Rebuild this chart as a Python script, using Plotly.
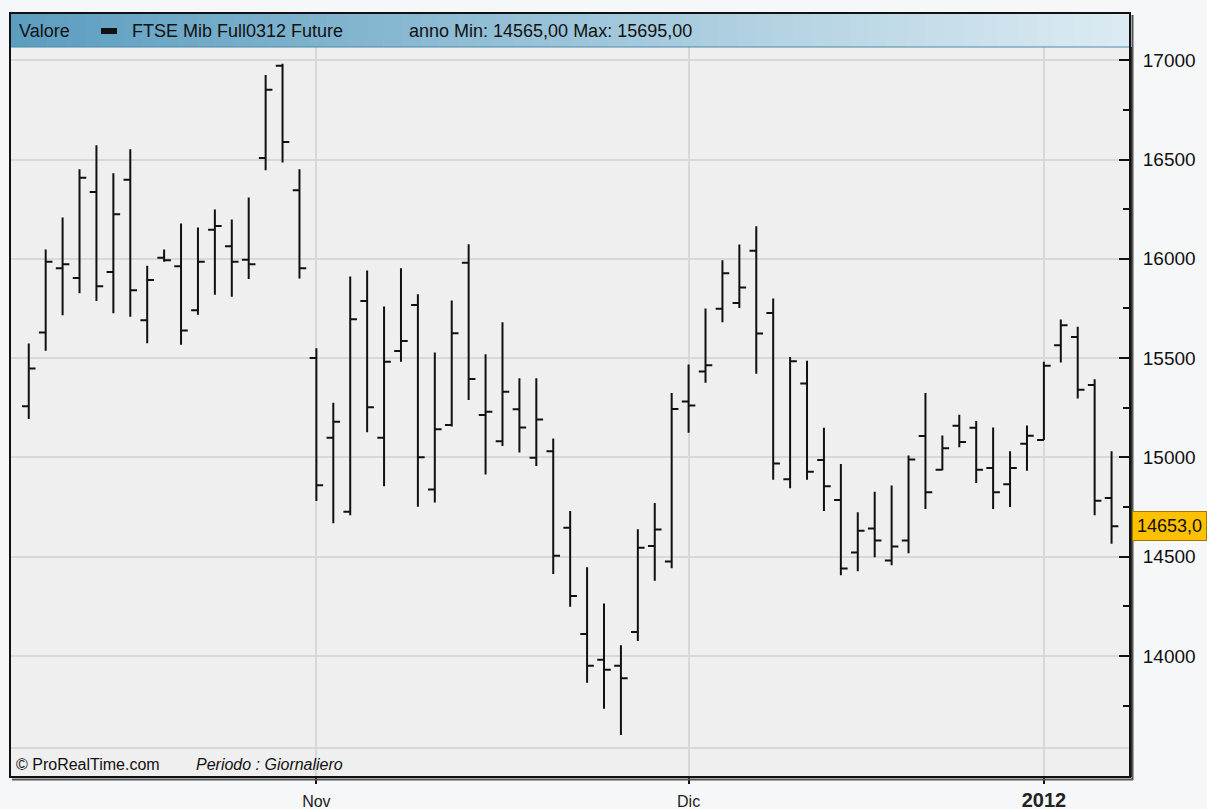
import plotly.graph_objects as go

# ---- data ----
OPEN = [15257, 15629, 15953, 15903, 16337, 15934, 16398, 15691, 16005, 15963,
        15741, 16146, 16064, 15995, 16508, 16973, 16346, 15500, 15099, 14726,
        15788, 15099, 15536, 15768, 14838, 15163, 15980, 15213, 15081, 15242,
        14998, 15031, 14646, 14110, 13980, 13950, 14120, 14554, 14475, 15282,
        15433, 15748, 15777, 16041, 15727, 14890, 15372, 14987, 14785, 14521,
        14642, 14480, 14581, 15107, 14937, 15159, 15149, 14947, 14864, 15068,
        15088, 15565, 15606, 15365, 14795]
HIGH = [15574, 16047, 16208, 16451, 16572, 16431, 16552, 15965, 16047, 16178,
        16158, 16248, 16198, 16309, 16926, 16983, 16451, 15550, 15275, 15911,
        15941, 15760, 15953, 15822, 15528, 15790, 16074, 15519, 15681, 15398,
        15398, 15095, 14730, 14446, 14264, 14054, 14638, 14770, 15324, 15468,
        15750, 15993, 16072, 16164, 15800, 15505, 15487, 15149, 14967, 14723,
        14827, 14858, 15009, 15324, 15110, 15215, 15183, 15151, 15031, 15161,
        15481, 15695, 15658, 15393, 15031]
LOW = [15193, 15537, 15716, 15827, 15788, 15726, 15708, 15575, 15985, 15567,
       15718, 15819, 15809, 15899, 16446, 16485, 15901, 14780, 14668, 14709,
       15126, 14855, 15482, 14751, 14773, 15155, 15289, 14914, 15057, 15025,
       14956, 14412, 14248, 13865, 13734, 13602, 14075, 14379, 14441, 15124,
       15376, 15680, 15752, 15421, 14887, 14845, 14887, 14730, 14406, 14426,
       14497, 14457, 14517, 14740, 14935, 15051, 14871, 14740, 14750, 14932,
       15088, 15478, 15296, 14709, 14565]
CLOSE = [15448, 15985, 15973, 16409, 15862, 16225, 15842, 15893, 15993, 15639,
         15985, 16166, 15985, 15973, 16852, 16589, 15953, 14860, 15180, 15696,
         15252, 15482, 15586, 15000, 15141, 15625, 15395, 15230, 15331, 15151,
         15191, 14505, 14302, 13950, 13930, 13888, 14545, 14637, 15243, 15261,
         15464, 15928, 15856, 15624, 14969, 15484, 14928, 14854, 14440, 14630,
         14581, 14551, 14989, 14824, 15046, 15078, 14937, 14824, 14947, 15109,
         15462, 15666, 15341, 14782, 14653]

X_TICK_POS = [17, 39, 60]
X_TICK_TEXT = ["Nov", "Dic", "<span style='font-size:20px'><b>2012</b></span>"]
Y_TICKS = [14000, 14500, 15000, 15500, 16000, 16500, 17000]
Y_MINOR = [13750, 14250, 14750, 15250, 15750, 16250, 16750]
LAST_PRICE = 14653
LAST_LABEL = "14653,0"
HEADER_TITLE = "Valore"
HEADER_SERIES = "FTSE Mib Full0312 Future"
HEADER_STATS = "anno Min: 14565,00 Max: 15695,00"

# design coordinates are reference pixels (1207 x 809); the figure is laid out
# slightly taller (K) because the photographed page is squeezed to 809 px.
REF_H = 809
K = 822 / 809
W, H = 1207, round(REF_H * K)


def Y(p):  # reference pixel -> figure pixel
    return p * K


ML, MR = 11, 77
MT, MB = Y(46), H - Y(777)
PW = W - ML - MR
PH = H - MT - MB


def px(p):
    return (p - ML) / PW


def py(p):
    return (H - MB - Y(p)) / PH


FONT = "Liberation Sans, Arial, sans-serif"

xs = list(range(len(OPEN)))
bar_style = dict(line=dict(color="#111111", width=2))
fig = go.Figure(go.Ohlc(
    x=xs, open=OPEN, high=HIGH, low=LOW, close=CLOSE,
    increasing=bar_style, decreasing=bar_style, tickwidth=0.4,
    hoverinfo="skip",
))

shapes = []
n = 60
c0 = (0x5c, 0x9e, 0xc0)
c1 = (0xdc, 0xeb, 0xf3)
x_left, x_right = 10, 1130
for i in range(n):
    t = i / (n - 1)
    col = "rgb(%d,%d,%d)" % tuple(int(a + (b - a) * t) for a, b in zip(c0, c1))
    xa = x_left + (x_right - x_left) * i / n
    xb = x_left + (x_right - x_left) * (i + 1) / n + 0.6
    shapes.append(dict(type="rect", xref="paper", yref="paper",
                       x0=px(xa), x1=px(xb), y0=py(46), y1=py(12),
                       fillcolor=col, line=dict(width=0), layer="above"))
shapes.append(dict(type="line", xref="paper", yref="paper", x0=px(10), x1=px(1130),
                   y0=py(46), y1=py(46), line=dict(color="#4d8aa8", width=1), layer="above"))
shapes.append(dict(type="rect", xref="paper", yref="paper", x0=px(101), x1=px(117),
                   y0=py(33), y1=py(27), fillcolor="#111111", line=dict(width=0), layer="above"))
shapes.append(dict(type="rect", xref="paper", yref="paper", x0=0, x1=px(1128.5),
                   y0=py(775.5), y1=py(748), fillcolor="#efefef",
                   line=dict(width=0), layer="between"))
shapes.append(dict(type="line", xref="paper", yref="paper", x0=0, x1=px(1128.5),
                   y0=py(748), y1=py(748), line=dict(color="#d2d2d2", width=1.5), layer="between"))
shapes.append(dict(type="line", xref="x", yref="paper", x0=X_TICK_POS[2], x1=X_TICK_POS[2],
                   y0=py(748), y1=1, line=dict(color="#a8a8a8", width=1.5), layer="between"))
shapes.append(dict(type="rect", xref="paper", yref="paper", x0=px(10), x1=px(1130),
                   y0=py(777), y1=py(12), line=dict(color="#111111", width=2), layer="above"))
shapes.append(dict(type="line", xref="paper", yref="paper", x0=px(1132.5), x1=px(1132.5),
                   y0=py(780), y1=py(14), line=dict(color="#555555", width=2), layer="above"))
shapes.append(dict(type="line", xref="paper", yref="paper", x0=px(12), x1=px(1133),
                   y0=py(779.5), y1=py(779.5), line=dict(color="#555555", width=2), layer="above"))

annotations = [
    dict(text=HEADER_TITLE, xref="paper", yref="paper", x=px(17), y=py(30),
         xanchor="left", yanchor="middle", showarrow=False,
         font=dict(family=FONT, size=18, color="#111111")),
    dict(text=HEADER_SERIES, xref="paper", yref="paper", x=px(130), y=py(30),
         xanchor="left", yanchor="middle", showarrow=False,
         font=dict(family=FONT, size=18, color="#111111")),
    dict(text=HEADER_STATS, xref="paper", yref="paper", x=px(407), y=py(30),
         xanchor="left", yanchor="middle", showarrow=False,
         font=dict(family=FONT, size=18, color="#111111")),
    dict(text="© ProRealTime.com", xref="paper", yref="paper", x=px(14), y=py(764),
         xanchor="left", yanchor="middle", showarrow=False,
         font=dict(family=FONT, size=16, color="#111111")),
    dict(text="<i>Periodo : Giornaliero</i>", xref="paper", yref="paper", x=px(194), y=py(764),
         xanchor="left", yanchor="middle", showarrow=False,
         font=dict(family=FONT, size=16, color="#111111")),
    dict(text=LAST_LABEL, xref="paper", yref="y", x=1, y=LAST_PRICE, xshift=2,
         xanchor="left", yanchor="middle", showarrow=False, align="left",
         bgcolor="#ffc000", bordercolor="#a07a00", borderwidth=1, borderpad=4,
         font=dict(family=FONT, size=18, color="#111111")),
]

fig.update_layout(
    width=W, height=H,
    margin=dict(l=ML, r=MR, t=MT, b=MB),
    paper_bgcolor="#f6f7f9", plot_bgcolor="#efefef",
    showlegend=False,
    shapes=shapes, annotations=annotations,
    xaxis=dict(range=[-1.05, 65.09], rangeslider=dict(visible=False),
               tickmode="array", tickvals=X_TICK_POS, ticktext=X_TICK_TEXT,
               showgrid=True, gridcolor="#d8d8d8", gridwidth=1.5, zeroline=False,
               ticks="outside", ticklen=6, tickwidth=1.5, tickcolor="#111111",
               showline=False, ticklabelstandoff=4,
               tickfont=dict(family=FONT, size=16, color="#222222"), fixedrange=True),
    yaxis=dict(side="right", range=[13390, 17067],
               tickmode="array", tickvals=Y_TICKS, ticktext=[str(v) for v in Y_TICKS],
               showgrid=True, gridcolor="#d8d8d8", gridwidth=1.5, zeroline=False,
               ticks="inside", ticklen=11, tickwidth=1.5, tickcolor="#111111",
               minor=dict(tickmode="array", tickvals=Y_MINOR, ticks="inside", ticklen=7,
                          tickwidth=1.5, tickcolor="#111111", showgrid=False),
               showline=True, linecolor="#111111", linewidth=3, ticklabelstandoff=6,
               tickfont=dict(family=FONT, size=19, color="#111111"), fixedrange=True),
)

POST = (
    "var d=document.documentElement,b=document.body;"
    "[d,b].forEach(function(e){e.style.margin='0';e.style.padding='0';"
    "e.style.background='#f6f7f9';});"
)
fig.write_html("out.html", config={"displayModeBar": False}, post_script=POST)
